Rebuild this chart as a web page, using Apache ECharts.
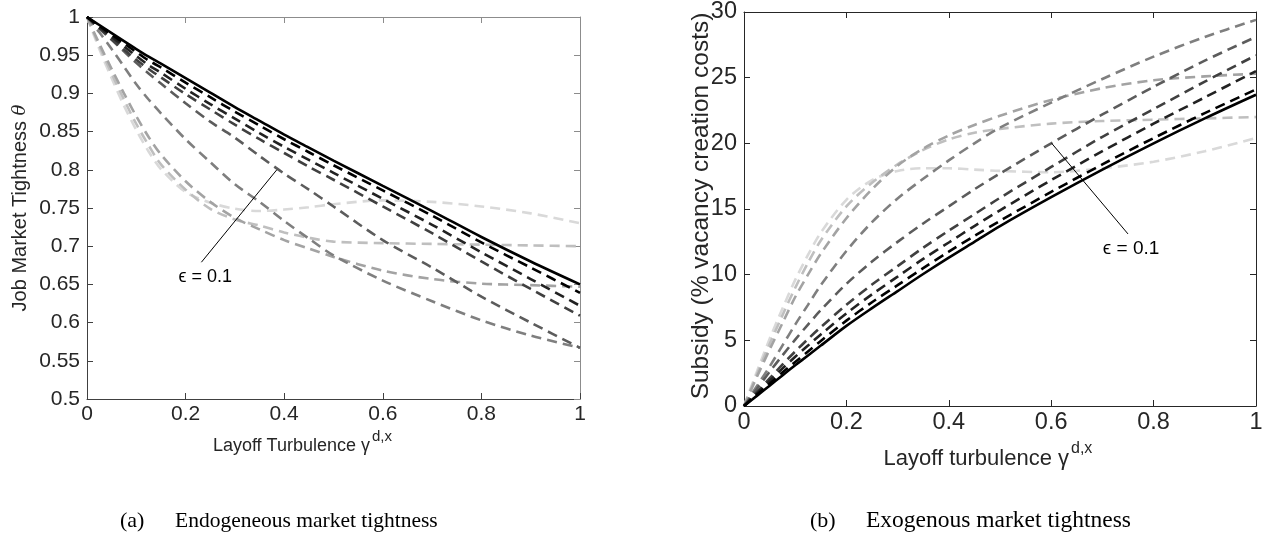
<!DOCTYPE html>
<html><head><meta charset="utf-8">
<script src="https://cdn.jsdelivr.net/npm/echarts@6/dist/echarts.min.js"></script>
<style>html,body{margin:0;padding:0;background:#fff}#c{width:1271px;height:552px}</style>
</head><body><div id="c"></div>
<script>
// shared x grid (layoff turbulence)
const xs = [0, 0.025, 0.05, 0.075, 0.1, 0.125, 0.15, 0.2, 0.25, 0.3, 0.35, 0.4, 0.45, 0.5, 0.6, 0.7, 0.8, 0.9, 1];
const xTicks = [0, 0.2, 0.4, 0.6, 0.8, 1];
const leftYTicks = [0.5, 0.55, 0.6, 0.65, 0.7, 0.75, 0.8, 0.85, 0.9, 0.95, 1];
const rightYTicks = [0, 5, 10, 15, 20, 25, 30];
const curveColors = ['#d9d9d9', '#bfbfbf', '#a3a3a3', '#7f7f7f', '#5c5c5c', '#404040', '#222222', '#000000', '#000000'];

// Panel (a): job market tightness theta
const thetaI = [1, .958, .92, .884, .852, .824, .801, .771, .757, .749, .746, .748, .751, .755, .76, .758, .752, .743, .73];
const thetaH = [1, .962, .926, .892, .86, .832, .807, .774, .749, .735, .727, .718, .711, .706, .704, .703, .702, .701, .70];
const thetaG = [1, .965, .932, .90, .87, .843, .82, .785, .758, .737, .722, .708, .697, .686, .668, .657, .651, .649, .647];
const thetaF = [1, .98, .958, .935, .912, .892, .874, .84, .81, .781, .758, .733, .71, .688, .655, .628, .603, .583, .567];
const thetaE = [1, .985, .97, .955, .94, .926, .913, .887, .863, .842, .818, .795, .774, .752, .708, .672, .634, .60, .567];
const thetaD = [1, .9855, .971, .9575, .944, .932, .921, .899, .879, .859, .84, .822, .804, .787, .752, .717, .68, .644, .609];
const thetaC = [1, .9865, .974, .9615, .949, .937, .927, .906, .886, .867, .848, .83, .813, .796, .762, .728, .692, .657, .622];
const thetaB = [1, .9885, .977, .9655, .954, .943, .934, .914, .895, .876, .858, .84, .823, .806, .773, .74, .705, .672, .639];
const thetaSolid = [1, .9895, .979, .9685, .958, .948, .939, .92, .901, .882, .864, .846, .829, .812, .779, .746, .712, .68, .65];

// Panel (b): subsidy, % of vacancy creation costs
const subI = [0, 2.6, 5.1, 7.4, 9.6, 11.5, 13.2, 15.7, 17.2, 17.9, 18.1, 18.1, 18.0, 17.9, 17.8, 18.1, 18.6, 19.4, 20.4];
const subH = [0, 2.4, 4.7, 6.9, 9.0, 10.9, 12.6, 15.2, 17.0, 18.4, 19.5, 20.3, 20.8, 21.1, 21.5, 21.7, 21.8, 21.9, 22.0];
const subG = [0, 2.2, 4.3, 6.3, 8.3, 10.0, 11.6, 14.3, 16.5, 18.3, 19.6, 20.6, 21.4, 22.1, 23.3, 24.2, 24.8, 25.1, 25.3];
const subF = [0, 1.5, 3.0, 4.6, 6.2, 7.7, 9.2, 11.8, 14.0, 15.8, 17.3, 18.7, 20.0, 21.2, 23.1, 24.9, 26.6, 28.1, 29.4];
const subE = [0, 1.3, 2.6, 3.85, 5.05, 6.2, 7.3, 9.3, 11.0, 12.5, 13.9, 15.2, 16.5, 17.7, 20.0, 22.2, 24.3, 26.3, 28.1];
const subD = [0, 1.05, 2.1, 3.15, 4.15, 5.1, 6.0, 7.7, 9.25, 10.65, 12.05, 13.35, 14.6, 15.85, 18.2, 20.5, 22.6, 24.7, 26.7];
const subC = [0, .95, 1.9, 2.85, 3.75, 4.6, 5.45, 7.05, 8.5, 9.85, 11.2, 12.45, 13.7, 14.9, 17.2, 19.4, 21.5, 23.5, 25.5];
const subB = [0, .85, 1.7, 2.55, 3.35, 4.15, 4.95, 6.5, 7.9, 9.2, 10.5, 11.75, 12.95, 14.1, 16.3, 18.4, 20.4, 22.3, 24.1];
const subSolid = [0, .77, 1.55, 2.33, 3.1, 3.85, 4.6, 6.1, 7.45, 8.75, 10.05, 11.3, 12.5, 13.7, 15.9, 18.0, 20.0, 21.9, 23.7];

const thetaSets = [thetaI, thetaH, thetaG, thetaF, thetaE, thetaD, thetaC, thetaB, thetaSolid];
const subSets = [subI, subH, subG, subF, subE, subD, subC, subB, subSolid];

const FONT = 'Liberation Sans';
const fmt = v => String(+(+v).toFixed(2));

function mkSeries(sets, axisIdx) {
  return sets.map((arr, k) => ({
    type: 'line', xAxisIndex: axisIdx, yAxisIndex: axisIdx,
    data: xs.map((x, i) => [x, arr[i]]),
    showSymbol: false, smooth: 0.3, silent: true, animation: false,
    lineStyle: {color: curveColors[k], width: 2.6, type: k === sets.length - 1 ? 'solid' : [10, 6], cap: 'butt'},
    z: 2 + k
  }));
}

function xAx(grid, pos, labels, color, fs) {
  return {type: 'value', gridIndex: grid, position: pos, min: xTicks[0], max: xTicks[xTicks.length - 1], interval: 0.2,
    axisLine: {show: true, onZero: false, lineStyle: {color: color, width: 1}},
    axisTick: {show: true, inside: true, length: 6, lineStyle: {color: color}},
    axisLabel: {show: labels, fontFamily: FONT, fontSize: fs, color: '#262626', margin: 5, formatter: fmt},
    splitLine: {show: false}};
}
function yAx(grid, pos, labels, color, ticks, interval, fs) {
  return {type: 'value', gridIndex: grid, position: pos, min: ticks[0], max: ticks[ticks.length - 1], interval: interval,
    axisLine: {show: true, onZero: false, lineStyle: {color: color, width: 1}},
    axisTick: {show: true, inside: true, length: 6, lineStyle: {color: color}},
    axisLabel: {show: labels, fontFamily: FONT, fontSize: fs, color: '#262626', margin: 7, formatter: fmt},
    splitLine: {show: false}};
}

const chart = echarts.init(document.getElementById('c'), null, {renderer: 'canvas'});
chart.setOption({
  animation: false,
  backgroundColor: '#fff',
  grid: [
    {left: 87, top: 17, width: 493, height: 382},
    {left: 744, top: 9, width: 512, height: 397}
  ],
  xAxis: [xAx(0, 'bottom', true, '#404040', 21), xAx(1, 'bottom', true, '#262626', 23.5), xAx(0, 'top', false, '#8c8c8c', 21), xAx(1, 'top', false, '#262626', 23.5)],
  yAxis: [yAx(0, 'left', true, '#404040', leftYTicks, 0.05, 21), yAx(1, 'left', true, '#262626', rightYTicks, 5, 23.5),
          yAx(0, 'right', false, '#8c8c8c', leftYTicks, 0.05, 21), yAx(1, 'right', false, '#262626', rightYTicks, 5, 23.5)],
  series: mkSeries(thetaSets, 0).concat(mkSeries(subSets, 1))
});

// annotations anchored in data coordinates
const annA = {tip: [0.385, 0.80], tail: [0.232, 0.679], text: [0.24, 0.66]};
const annB = {tip: [0.601, 20.0], tail: [0.75, 13.1], text: [0.756, 12.0]};
const pA = {tip: chart.convertToPixel({gridIndex: 0}, annA.tip), tail: chart.convertToPixel({gridIndex: 0}, annA.tail), text: chart.convertToPixel({gridIndex: 0}, annA.text)};
const pB = {tip: chart.convertToPixel({gridIndex: 1}, annB.tip), tail: chart.convertToPixel({gridIndex: 1}, annB.tail), text: chart.convertToPixel({gridIndex: 1}, annB.text)};

const tStyle = (txt, size, extra) => Object.assign({text: txt, font: size + 'px "' + FONT + '"', fill: '#1a1a1a'}, extra || {});
chart.setOption({
  graphic: [
    {type: 'line', shape: {x1: pA.tail[0], y1: pA.tail[1], x2: pA.tip[0], y2: pA.tip[1]}, style: {stroke: '#000', lineWidth: 1}, z: 50},
    {type: 'text', x: pA.text[0], y: pA.text[1], style: tStyle('ϵ = 0.1', 18, {textAlign: 'center', textVerticalAlign: 'middle', fill: '#000'}), z: 50},
    {type: 'line', shape: {x1: pB.tail[0], y1: pB.tail[1], x2: pB.tip[0], y2: pB.tip[1]}, style: {stroke: '#000', lineWidth: 1}, z: 50},
    {type: 'text', x: pB.text[0], y: pB.text[1], style: tStyle('ϵ = 0.1', 19, {textAlign: 'center', textVerticalAlign: 'middle', fill: '#000'}), z: 50},
    // left axis titles
    {type: 'text', x: 20, y: 208, rotation: Math.PI / 2,
      style: {text: '{n|Job Market Tightness }{i|θ}', textAlign: 'center', textVerticalAlign: 'middle',
        rich: {n: {fontFamily: FONT, fontSize: 20, fill: '#262626'}, i: {fontFamily: 'DejaVu Serif', fontStyle: 'italic', fontSize: 18, fill: '#262626'}}}},
    {type: 'text', x: 370, y: 446, style: tStyle('Layoff Turbulence γ', 18, {textAlign: 'right', textVerticalAlign: 'middle', fill: '#262626'})},
    {type: 'text', x: 372, y: 437, style: tStyle('d,x', 15, {textAlign: 'left', textVerticalAlign: 'middle', fill: '#262626'})},
    // right axis titles
    {type: 'text', x: 701, y: 206, rotation: Math.PI / 2, style: tStyle('Subsidy (% vacancy creation costs)', 24.5, {textAlign: 'center', textVerticalAlign: 'middle', fill: '#262626'})},
    {type: 'text', x: 1069, y: 459, style: tStyle('Layoff turbulence γ', 22, {textAlign: 'right', textVerticalAlign: 'middle', fill: '#262626'})},
    {type: 'text', x: 1071, y: 449, style: tStyle('d,x', 16, {textAlign: 'left', textVerticalAlign: 'middle', fill: '#262626'})},
    // captions
    {type: 'text', x: 120, y: 521, style: {text: '(a)', font: '22px "Liberation Serif"', fill: '#000', textVerticalAlign: 'middle'}},
    {type: 'text', x: 175, y: 521, style: {text: 'Endogeneous market tightness', font: '21.5px "Liberation Serif"', fill: '#000', textVerticalAlign: 'middle'}},
    {type: 'text', x: 810, y: 521, style: {text: '(b)', font: '22px "Liberation Serif"', fill: '#000', textVerticalAlign: 'middle'}},
    {type: 'text', x: 866, y: 521, style: {text: 'Exogenous market tightness', font: '23.5px "Liberation Serif"', fill: '#000', textVerticalAlign: 'middle'}}
  ]
});
</script></body></html>
